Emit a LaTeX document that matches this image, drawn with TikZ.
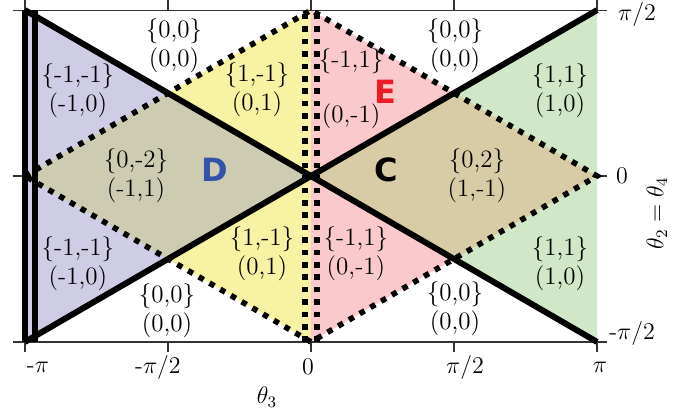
\documentclass[tikz,border=0pt]{standalone}
\usepackage{fontspec}
\newfontfamily\tagfont{DejaVu Sans}
\usepackage{tikz}

\definecolor{lavcol}{RGB}{207,205,230}
\definecolor{olivecol}{RGB}{205,204,178}
\definecolor{yelcol}{RGB}{247,243,163}
\definecolor{pinkcol}{RGB}{249,201,204}
\definecolor{tancol}{RGB}{216,204,166}
\definecolor{greencol}{RGB}{209,232,200}
\definecolor{dblue}{RGB}{52,82,168}
\definecolor{ered}{RGB}{236,28,36}

\begin{document}
\begin{tikzpicture}[x=45.52pt,y=52.8pt,
  reg/.style={align=center,font=\fontsize{12.5}{14.5}\selectfont},
  tag/.style={font=\fontsize{16}{16}\tagfont\bfseries},
  axln/.style={draw=black!80,line width=0.6pt},
  ticklbl/.style={font=\fontsize{12}{14}\selectfont},
  bound/.style={line width=3pt},
  wall/.style={line width=2.8pt,dash pattern=on 2.8pt off 3.4pt}]
\useasboundingbox (-3.416,-2.273) rectangle (4.152,1.667);
% regions
\fill[lavcol] (-pi,pi/2) -- (0,0) -- (-pi,-pi/2) -- cycle;
\fill[greencol] (pi,pi/2) -- (0,0) -- (pi,-pi/2) -- cycle;
\fill[olivecol] (-pi,0) -- (-pi/2,pi/4) -- (0,0) -- (-pi/2,-pi/4) -- cycle;
\fill[tancol] (pi,0) -- (pi/2,pi/4) -- (0,0) -- (pi/2,-pi/4) -- cycle;
\fill[yelcol] (0,0) -- (-pi/2,pi/4) -- (0,pi/2) -- cycle;
\fill[yelcol] (0,0) -- (-pi/2,-pi/4) -- (0,-pi/2) -- cycle;
\fill[pinkcol] (0,0) -- (pi/2,pi/4) -- (0,pi/2) -- cycle;
\fill[pinkcol] (0,0) -- (pi/2,-pi/4) -- (0,-pi/2) -- cycle;
% axes and ticks
\draw[axln] (-pi-0.132,pi/2) -- (pi+0.11,pi/2);
\draw[axln] (-pi-0.132,-pi/2) -- (pi+0.11,-pi/2);
\draw[axln] (-pi-0.132,0) -- (-pi,0);
\draw[axln] (pi,0) -- (pi+0.11,0);
\foreach \t in {-1,-0.5,0,0.5,1} {
  \draw[axln] (\t*pi,pi/2) -- ++(0,0.15);
  \draw[axln] (\t*pi,-pi/2) -- ++(0,-0.1);
}
% boundaries
\draw[wall] (-pi,0) -- (0,pi/2) -- (pi,0) -- (0,-pi/2) -- cycle;
\draw[wall] (-0.066,-pi/2) -- (-0.066,pi/2);
\draw[wall] (0.066,-pi/2) -- (0.066,pi/2);
\draw[bound] (-pi,pi/2) -- (pi,-pi/2);
\draw[bound] (-pi,-pi/2) -- (pi,pi/2);
\draw[bound] (-pi,-pi/2) -- (-pi,pi/2);
\draw[bound] (-3.032,-pi/2) -- (-3.032,pi/2);
% labels
\node[reg] (lavtop) at (-2.56,0.805) {\{-1,-1\}\\(-1,0)};
\node[reg] (lavbot) at (-2.56,-0.833) {\{-1,-1\}\\(-1,0)};
\node[reg] (whtl) at (-1.505,1.231) {\{0,0\}\\(0,0)};
\node[reg] (whbl) at (-1.582,-1.278) {\{0,0\}\\(0,0)};
\node[reg] (olv) at (-1.922,0) {\{0,-2\}\\(-1,1)};
\node[reg] (yeltop) at (-0.593,0.814) {\{1,-1\}\\(0,1)};
\node[reg] (yelbot) at (-0.538,-0.734) {\{1,-1\}\\(0,1)};
\node[reg] (pnktop) at (0.44,0.829) {\{-1,1\}\\[13pt](0,-1)};
\node[reg] (pnkbot) at (0.494,-0.739) {\{-1,1\}\\(0,-1)};
\node[reg] (whtr) at (1.582,1.231) {\{0,0\}\\(0,0)};
\node[reg] (whbr) at (1.582,-1.259) {\{0,0\}\\(0,0)};
\node[reg] (tan) at (1.823,0) {\{0,2\}\\(1,-1)};
\node[reg] (grntop) at (2.735,0.81) {\{1,1\}\\(1,0)};
\node[reg] (grnbot) at (2.735,-0.829) {\{1,1\}\\(1,0)};
\node[tag,text=dblue] (tagD) at (-1.054,0.057) {D};
\node[tag] (tagC) at (0.824,0.057) {C};
\node[tag,text=ered] (tagE) at (0.813,0.795) {E};
% tick labels
\node[ticklbl] (xm2) at (-2.999,-1.809) {-$\pi$};
\node[ticklbl] (xm1) at (-1.681,-1.809) {-$\pi/2$};
\node[ticklbl] (x0) at (-0.033,-1.809) {$0$};
\node[ticklbl] (xp1) at (1.692,-1.809) {$\pi/2$};
\node[ticklbl] (xp2) at (3.174,-1.809) {$\pi$};
\node[ticklbl] (yp1) at (3.581,1.534) {$\pi/2$};
\node[ticklbl] (y0) at (3.416,0) {$0$};
\node[ticklbl] (ym1) at (3.526,-1.487) {-$\pi/2$};
\node[ticklbl] (xlab) at (-0.483,-2.093) {$\theta_3$};
\node[ticklbl,rotate=90] (ylab) at (3.80,-0.35) {$\theta_2=\theta_4$};
\end{tikzpicture}
\end{document}
